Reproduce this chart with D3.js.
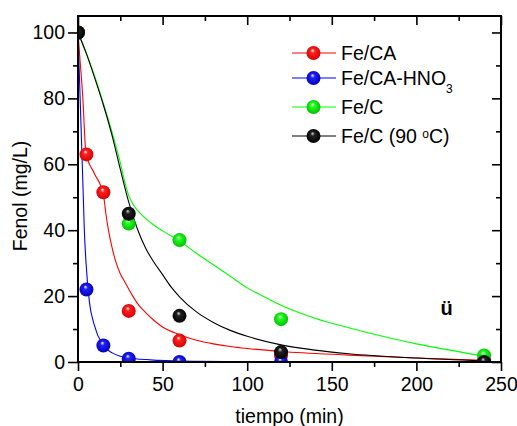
<!DOCTYPE html>
<html>
<head>
<meta charset="utf-8">
<script src="https://cdn.jsdelivr.net/npm/d3@7"></script>
<style>
    body { margin: 0; background: #fff; }
    text { font-family: "Liberation Sans", Arial, sans-serif; }
</style>
</head>
<body>
<svg id="canvas" width="517" height="426"></svg>
<script>
// measured points (tiempo in min, fenol in mg/L)
var redT = [0, 5, 15, 30, 60, 120, 240];
var redV = [100, 63, 51.5, 15.5, 6.5, 2, 0.5];
var blueT = [0, 5, 15, 30, 60, 120, 240];
var blueV = [100, 22, 5, 1, 0, 0, 0];
var greenT = [0, 30, 60, 120, 240];
var greenV = [100, 42, 37, 13, 2];
var blackT = [0, 30, 60, 120, 240];
var blackV = [100, 45, 14, 3, 0];

// fitted curves
var redFitT = [0, 1, 2.8, 4.7, 9.6, 15, 16.5, 18, 20, 22, 25, 28, 32, 36, 40, 45, 50, 60, 70, 80, 90, 100, 120, 160, 200, 240];
var redFitV = [100, 93, 80.6, 63.4, 57.3, 50.8, 45, 40, 35, 31, 26.8, 24, 20.3, 17.2, 15, 12.6, 10.6, 8.3, 6.6, 5.5, 4.7, 4.1, 3.2, 2.1, 1.2, 0.5];
var blueFitT = [0, 3.1, 3.7, 4.7, 6.7, 9.6, 14.6, 20.5, 30.3, 48, 70, 120, 240];
var blueFitV = [100, 50.8, 40.6, 30.5, 18.4, 11.3, 5.2, 2.7, 1.2, 0.5, 0.2, 0, 0];
var greenFitT = [0, 5, 10, 15, 20, 25, 28, 30, 33, 38, 45, 50, 60, 70, 80, 90, 100, 110, 120, 140, 160, 180, 200, 220, 240];
var greenFitV = [100, 93.7, 86.5, 78.5, 70, 60.5, 54, 50.5, 47.5, 44.5, 41.5, 39.8, 36.7, 33, 29.5, 26, 22.5, 19.8, 17.2, 13.3, 10.4, 7.8, 5.5, 3.6, 1.7];
var blackFitT = [0, 5, 10, 15, 20, 25, 30, 35, 40, 45, 50, 55, 60, 70, 80, 90, 100, 120, 140, 160, 200, 240];
var blackFitV = [100, 93.5, 86, 78, 69, 58.5, 48.5, 40.5, 34.5, 30.2, 26.5, 22.8, 19.8, 15.2, 12, 9.6, 7.8, 5.2, 3.6, 2.5, 1.2, 0.3];

var seriesNames = ["Fe/CA", "Fe/CA-HNO3", "Fe/C", "Fe/C (90 oC)"];
var seriesColors = ["#ff0000", "#0000ff", "#00ff00", "#000000"];

var xTicks = [0, 50, 100, 150, 200, 250];
var xMinor = [25, 75, 125, 175, 225];
var yTicks = [0, 20, 40, 60, 80, 100];
var yMinor = [10, 30, 50, 70, 90];

var svg = d3.select("#canvas");
var plotL = 78, plotR = 501, plotT = 16, plotB = 362;
var x = d3.scaleLinear().domain([0, 250]).range([plotL, plotR]);
var y = d3.scaleLinear().domain([0, 105]).range([plotB, plotT]);

var zip = function (ts, vs) {
    return ts.map(function (t, i) { return {t: t, v: vs[i]}; });
};
var series = [
    {pts: zip(redT, redV), fit: zip(redFitT, redFitV)},
    {pts: zip(blueT, blueV), fit: zip(blueFitT, blueFitV)},
    {pts: zip(greenT, greenV), fit: zip(greenFitT, greenFitV)},
    {pts: zip(blackT, blackV), fit: zip(blackFitT, blackFitV)}
];

// sphere-like gradients for the markers
var defs = svg.append("defs");
var shades = [
    ["#ffffff", "#ff2020", "#d00000"],
    ["#ffffff", "#2020ff", "#0000b0"],
    ["#ffffff", "#20ff20", "#00b800"],
    ["#d8d8d8", "#202020", "#000000"]
];
shades.forEach(function (s, i) {
    var g = defs.append("radialGradient").attr("id", "ball" + i)
        .attr("cx", "50%").attr("cy", "50%").attr("r", "55%")
        .attr("fx", "42%").attr("fy", "30%");
    g.append("stop").attr("offset", "0%").attr("stop-color", s[0]);
    g.append("stop").attr("offset", "28%").attr("stop-color", s[1]);
    g.append("stop").attr("offset", "100%").attr("stop-color", s[2]);
});
defs.append("clipPath").attr("id", "plotClip")
    .append("rect").attr("x", plotL).attr("y", plotT)
    .attr("width", plotR - plotL).attr("height", plotB - plotT);

var line = d3.line()
    .x(function (d) { return x(d.t); })
    .y(function (d) { return y(d.v); })
    .curve(d3.curveMonotoneX);

var plot = svg.append("g").attr("clip-path", "url(#plotClip)");
series.forEach(function (s, i) {
    plot.append("path").attr("d", line(s.fit))
        .attr("fill", "none").attr("stroke", seriesColors[i]).attr("stroke-width", 1.1);
});
series.forEach(function (s, i) {
    plot.selectAll(".pt" + i).data(s.pts).enter().append("circle")
        .attr("cx", function (d) { return x(d.t); })
        .attr("cy", function (d) { return y(d.v); })
        .attr("r", 7)
        .attr("fill", "url(#ball" + i + ")");
});

// axes: labelled ticks outside, mirror ticks inside
var fontSize = "19.5px";
var styleAxis = function (g) {
    g.select(".domain").remove();
    g.selectAll("line").attr("stroke", "#000").attr("stroke-width", 1.6);
    g.selectAll("text").attr("font-size", fontSize).attr("fill", "#000")
        .style("font-family", "'Liberation Sans', Arial, sans-serif");
};
svg.append("g").attr("transform", "translate(0," + plotB + ")")
    .call(d3.axisBottom(x).tickValues(xTicks).tickSize(9).tickPadding(6).tickFormat(d3.format("d")))
    .call(styleAxis);
svg.append("g").attr("transform", "translate(0," + plotB + ")")
    .call(d3.axisBottom(x).tickValues(xMinor).tickSize(5).tickFormat(""))
    .call(styleAxis);
svg.append("g").attr("transform", "translate(" + plotL + ",0)")
    .call(d3.axisLeft(y).tickValues(yTicks).tickSize(10).tickPadding(3).tickFormat(d3.format("d")))
    .call(styleAxis);
svg.append("g").attr("transform", "translate(" + plotL + ",0)")
    .call(d3.axisLeft(y).tickValues(yMinor).tickSize(5).tickFormat(""))
    .call(styleAxis);
svg.append("g").attr("transform", "translate(0," + plotT + ")")
    .call(d3.axisTop(x).tickValues(xTicks).tickSize(-9).tickFormat(""))
    .call(styleAxis);
svg.append("g").attr("transform", "translate(0," + plotT + ")")
    .call(d3.axisTop(x).tickValues(xMinor).tickSize(-5).tickFormat(""))
    .call(styleAxis);
svg.append("g").attr("transform", "translate(" + plotR + ",0)")
    .call(d3.axisRight(y).tickValues(yTicks).tickSize(-9).tickFormat(""))
    .call(styleAxis);
svg.append("g").attr("transform", "translate(" + plotR + ",0)")
    .call(d3.axisRight(y).tickValues(yMinor).tickSize(-5).tickFormat(""))
    .call(styleAxis);

svg.append("rect").attr("x", plotL).attr("y", plotT)
    .attr("width", plotR - plotL).attr("height", plotB - plotT)
    .attr("fill", "none").attr("stroke", "#000").attr("stroke-width", 2);

// axis titles
svg.append("text").attr("x", (plotL + plotR) / 2).attr("y", 423)
    .attr("text-anchor", "middle").attr("font-size", fontSize).text("tiempo (min)");
svg.append("text").attr("transform", "translate(27,196) rotate(-90)")
    .attr("text-anchor", "middle").attr("font-size", fontSize).text("Fenol (mg/L)");

// legend
var legendRows = [53, 78, 107, 136];
var legend = svg.append("g");
seriesNames.forEach(function (name, i) {
    var ly = legendRows[i];
    legend.append("line").attr("x1", 292).attr("x2", 336).attr("y1", ly).attr("y2", ly)
        .attr("stroke", seriesColors[i]).attr("stroke-width", 1);
    legend.append("circle").attr("cx", 313.5).attr("cy", ly).attr("r", 7)
        .attr("fill", "url(#ball" + i + ")");
    var txt = legend.append("text").attr("x", 341).attr("y", ly + 7).attr("font-size", fontSize);
    if (i === 1) {
        txt.append("tspan").text("Fe/CA-HNO");
        txt.append("tspan").attr("font-size", "12px").attr("dy", 8).text("3");
    } else if (i === 3) {
        txt.append("tspan").text("Fe/C (90 ");
        txt.append("tspan").attr("font-size", "12px").attr("dy", -5).text("o");
        txt.append("tspan").attr("dy", 5).text("C)");
    } else {
        txt.text(name);
    }
});

// stray mark in the original figure
svg.append("text").attr("x", 446.7).attr("y", 315).attr("text-anchor", "middle")
    .attr("font-size", "20px").attr("font-weight", "bold").text("ü");
</script>
</body>
</html>
